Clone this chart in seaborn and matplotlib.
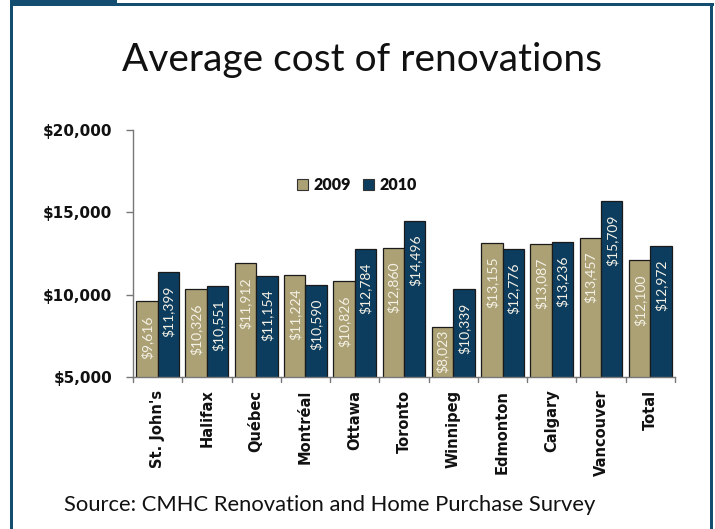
import matplotlib
matplotlib.use("Agg")
import matplotlib.pyplot as plt
import matplotlib.patches as mpatches
import seaborn as sns
import pandas as pd

cities = ["St. John's", "Halifax", "Québec", "Montréal", "Ottawa", "Toronto",
          "Winnipeg", "Edmonton", "Calgary", "Vancouver", "Total"]
cost_2009 = [9616, 10326, 11912, 11224, 10826, 12860, 8023, 13155, 13087, 13457, 12100]
cost_2010 = [11399, 10551, 11154, 10590, 12784, 14496, 10339, 12776, 13236, 15709, 12972]
years = ["2009", "2010"]
y_ticks = [5000, 10000, 15000, 20000]

df = pd.DataFrame({
    "city": cities * 2,
    "year": [years[0]] * len(cities) + [years[1]] * len(cities),
    "cost": cost_2009 + cost_2010,
})

tan = "#B5A66C"
navy = "#003F6B"
frame = "#134D70"

sns.set_theme(style="white")
fig = plt.figure(figsize=(7.15, 5.29), dpi=100)
ax = fig.add_axes([0.186, 0.287, 0.758, 0.467])

sns.barplot(data=df, x="city", y="cost", hue="year", order=cities,
            hue_order=years, palette=[tan, navy], width=0.87,
            edgecolor="#1a1a1a", linewidth=0.9, ax=ax, legend=True)

ax.set_ylim(5000, 20000)
ax.set_xlim(-0.5, len(cities) - 0.5)
ax.set_yticks(y_ticks)
ax.set_yticklabels([f"${v:,.0f}" for v in y_ticks], fontsize=11,
                   fontweight="bold", family="DejaVu Sans", color="#111111")
ax.set_xticks(range(len(cities)))
ax.set_xticklabels(cities, rotation=90, fontsize=10.5, fontweight="bold",
                   family="DejaVu Sans", color="#111111")
ax.tick_params(axis="x", length=0, pad=9)
ax.tick_params(axis="y", length=5, width=1, color="#777777", direction="out",
               left=True, pad=10)
for b in [i + 0.5 for i in range(-1, len(cities))]:
    ax.plot([b, b], [5000, 5000 - 300], color="#777777", lw=1, clip_on=False)
ax.set_xlabel("")
ax.set_ylabel("")
for side in ["top", "right"]:
    ax.spines[side].set_visible(False)
for side in ["left", "bottom"]:
    ax.spines[side].set_color("#777777")
    ax.spines[side].set_linewidth(1)

# value labels inside the top of each bar; pulled up when the bar is short
fig.canvas.draw()
renderer = fig.canvas.get_renderer()
px_per_pt = fig.dpi / 72
for cont, vals in zip(ax.containers, [cost_2009, cost_2010]):
    for bar, v in zip(cont, vals):
        txt = ax.annotate(f"${v:,.0f}", (bar.get_x() + bar.get_width() / 2, v),
                          xytext=(0, -10), textcoords="offset points",
                          rotation=90, ha="center", va="top", fontsize=10,
                          family="Lato", color="#F4F1E6")
        text_h = txt.get_window_extent(renderer).height / px_per_pt
        y0 = ax.transData.transform((0, 5000))[1]
        y1 = ax.transData.transform((0, v))[1]
        bar_h = (y1 - y0) / px_per_pt
        off = min(10, max(2, bar_h - text_h - 3))
        txt.xyann = (0, -off)

leg = ax.legend(loc="center left", bbox_to_anchor=(0.303, 0.777), ncol=2,
                frameon=False, handlelength=0.7, handleheight=0.7,
                handletextpad=0.35, columnspacing=0.7, borderaxespad=0,
                borderpad=0,
                prop={"family": "Lato", "weight": "heavy", "size": 11.5})
for h in leg.legend_handles:
    h.set_edgecolor("#333333")
    h.set_linewidth(0.8)
for t in leg.get_texts():
    t.set_color("#111111")

fig.text(0.506, 0.887, "Average cost of renovations", ha="center", va="center",
         fontsize=28, family="Lato", color="#111111")
fig.text(0.09, 0.045, "Source: CMHC Renovation and Home Purchase Survey",
         ha="left", va="center", fontsize=15.8, family="Lato", color="#111111")

# slide frame
W, H = 715, 529
def px_rect(x0, y0, w, h):
    fig.add_artist(mpatches.Rectangle((x0 / W, 1 - (y0 + h) / H), w / W, h / H,
                                      transform=fig.transFigure, color=frame,
                                      lw=0))

px_rect(10, 0, 107, 5)     # tab
px_rect(10, 3, 704, 3)     # top edge
px_rect(10, 3, 3, 526)     # left edge
px_rect(710, 3, 3, 526)    # right edge

fig.savefig("out.png", dpi=100, facecolor="white")
